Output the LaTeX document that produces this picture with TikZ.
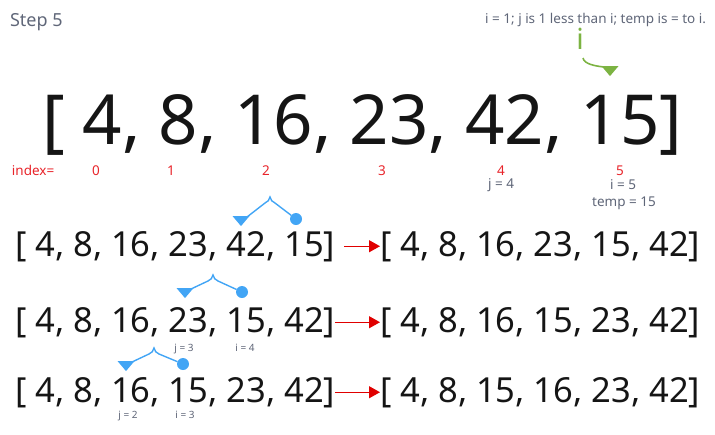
\documentclass[tikz,border=0pt]{standalone}
\usepackage{fontspec}
\setmainfont{Noto Sans}
\usetikzlibrary{arrows.meta,positioning,shapes.geometric}
\definecolor{slate}{HTML}{5F6678}
\definecolor{idxred}{HTML}{E8242A}
\definecolor{leaf}{HTML}{7CB342}
\definecolor{sky}{HTML}{42A5F5}
\definecolor{swapred}{HTML}{E00000}
\definecolor{ink}{HTML}{151515}

\begin{document}
\begin{tikzpicture}[
    x=1pt, y=-1pt,
    every node/.style={inner sep=0pt, outer sep=0pt},
    note/.style={text=slate, font=\fontsize{13.5}{15}\selectfont, anchor=base},
    tiny/.style={text=slate, font=\fontsize{10}{12}\selectfont, anchor=base},
    idx/.style={text=idxred, font=\fontsize{13.5}{15}\selectfont, anchor=base},
    bigarr/.style={text=ink, font=\fontsize{69}{78}\selectfont, anchor=base west, text depth=0pt},
    arr/.style={text=ink, font=\fontsize{34.5}{38}\selectfont, anchor=base west},
    swap/.style={-{Triangle[length=11pt,width=12pt]}, swapred, line width=1.2pt},
    brace/.style={sky, line width=1.4pt},
    marker/.style={isosceles triangle, isosceles triangle stretches, shape border rotate=-90,
                   minimum width=17pt, minimum height=10pt, fill},
    ball/.style={circle, fill=sky, minimum size=12pt}
]
  \useasboundingbox (0,0) rectangle (715,434);

  % Header
  \node[text=slate, font=\fontsize{18}{20}\selectfont, anchor=base west] (title) at (10,26) {Step 5};
  \node[note, anchor=base east] (rule) at (706,23) {i = 1; j is 1 less than i; temp is = to i.};

  % Pointer i
  \node[text=leaf, font=\fontsize{29}{32}\selectfont\bfseries, anchor=base] (gi) at (580,49) {i};
  \node[marker, leaf] (gtri) at (610,70) {};
  \draw[leaf, line width=1.6pt] ([shift={(3,9)}]gi.south) .. controls +(1,6) and +(-9,-1) .. ([shift={(-6,-3)}]gtri.center);

  % Main array
  \node[bigarr] (main) at (42,144) {[ 4, 8, 16, 23, 42, 15]};
  \node[idx, anchor=base west] (idxlbl) at (12,175) {index=};
  \node[idx] (i0) at (96,175) {0};
  \node[idx] (i1) at (171,175) {1};
  \node[idx] (i2) at (266,175) {2};
  \node[idx] (i3) at (382,175) {3};
  \node[idx] (i4) at (501,175) {4};
  \node[idx] (i5) at (620,175) {5};
  \node[note] (j4) at (501,188) {j = 4};
  \node[note] (i5v) at (623,189) {i = 5};
  \node[note] (temp) at (624,206) {temp = 15};

  % Swap rows
  \node[arr] (row1) at (15,256) {[ 4, 8, 16, 23, 42, 15]};
  \node[arr] (out1) at (380,256) {[ 4, 8, 16, 23, 15, 42]};
  \node[arr] (row2) at (15,332) {[ 4, 8, 16, 23, 15, 42]};
  \node[arr] (out2) at (380,332) {[ 4, 8, 16, 15, 23, 42]};
  \node[arr] (row3) at (15,402) {[ 4, 8, 16, 15, 23, 42]};
  \node[arr] (out3) at (380,402) {[ 4, 8, 15, 16, 23, 42]};

  \draw[swap] ([xshift=9pt]row1.east) -- (out1.west);
  \draw[swap] (row2.east) -- (out2.west);
  \draw[swap] (row3.east) -- (out3.west);

  % Braces over the swapped pair
  \foreach \k/\tx/\ty/\ax/\ay/\bx/\by in {1/241/220/270/197/296/219,
                                          2/185/292/213/275/242/292,
                                          3/126/365/154/348/183/364} {
    \node[marker, sky] (tri\k) at (\tx,\ty) {};
    \node[ball] (dot\k) at (\bx,\by) {};
    \coordinate (top\k) at (\ax,\ay);
    \draw[brace] ([shift={(6,-3)}]tri\k.center) -- ([shift={(-5,6)}]top\k)
      .. controls ([shift={(-2,5)}]top\k) and ([shift={(-1,3)}]top\k) .. (top\k)
      .. controls ([shift={(1,3)}]top\k) and ([shift={(2,5)}]top\k) .. ([shift={(5,6)}]top\k)
      -- (dot\k);
  }

  % Index notes
  \node[tiny] (j3) at (184,351) {j = 3};
  \node[tiny] (i4v) at (245,351) {i = 4};
  \node[tiny] (j2) at (128,418) {j = 2};
  \node[tiny] (i3v) at (185,418) {i = 3};
\end{tikzpicture}
\end{document}
